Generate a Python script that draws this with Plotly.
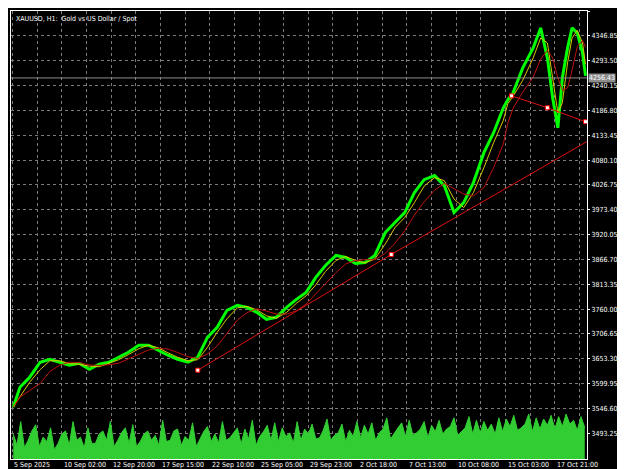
import plotly.graph_objects as go
import numpy as np

hours = [0,9,22,36,49,62,75,88,102,115,128,141,154,168,181,194,207,220,234,247,260,273,286,300,313,326,339,352,366,379,392,405,418,432,445,458,471,484,498,511,524,537,550,564,577,590,603,616,630,643,656,662,669,682,696,706,715,722,729,735,742,748,755,762,766]
price = [3549.6,3592.4,3613.9,3646,3652.4,3646,3639.6,3643.9,3631,3641.7,3646,3656.7,3667.5,3682.5,3682.5,3671.7,3661,3652.4,3646,3656.7,3699.6,3721,3757.4,3768.1,3763.9,3753.1,3738.2,3742.4,3763.9,3781,3796,3828.1,3853.8,3875.3,3871,3858.1,3860.3,3875.3,3924.5,3946,3967.4,4010.2,4038.1,4046.7,4025.3,3967.4,3988.8,4031.7,4096,4138.8,4192.4,4209.5,4224.5,4278.1,4321,4363.8,4299.5,4213.8,4149.5,4257,4321,4363.8,4353.1,4310.2,4260.9]
vol_hours = list(range(0, 770, 5))
volume = [40,22,60,18,30,45,55,20,35,28,50,15,25,40,45,22,60,30,35,18,50,25,25,40,45,30,60,20,30,42,50,25,55,20,28,40,45,30,38,22,62,28,30,45,48,22,36,30,58,20,32,44,52,28,40,26,60,30,34,42,50,24,48,32,62,22,36,44,54,30,58,28,50,36,42,26,60,30,48,40,56,32,34,46,64,30,38,42,56,28,46,36,60,34,54,40,58,30,42,48,66,32,40,50,58,36,62,38,42,48,60,34,54,44,62,40,48,52,66,38,44,50,68,40,62,42,60,46,56,40,66,44,64,52,70,46,50,56,72,44,66,48,64,54,70,48,68,52,72,56,62,46,68,50,66,54,64,58]
trend_h = [247, 506, 770]
trend_p = [3628.9, 3877.4, 4121.7]
trend2_h = [667, 715, 766]
trend2_p = [4218.0, 4192.4, 4162.4]
last_price = 4256.43
ytick_vals = [3493.25 + 53.35*k for k in range(18)]
xtick_h = [-1, 65, 131, 197, 263, 329, 395, 461, 527, 593, 659, 725]
xtick_labels = ["5 Sep 2025","10 Sep 02:00","12 Sep 20:00","17 Sep 15:00","22 Sep 10:00","25 Sep 05:00","29 Sep 23:00","2 Oct 18:00","7 Oct 13:00","10 Oct 08:00","15 Oct 03:00","17 Oct 21:00"]

def ma(a, n):
    a = np.array(a)
    return [a[max(0, i-n+1):i+1].mean() for i in range(len(a))]

F = dict(color="white", size=7, family="DejaVu Sans Condensed, Liberation Sans Narrow, DejaVu Sans")
fig = go.Figure()
fig.add_trace(go.Scatter(x=vol_hours[:len(volume)], y=volume, yaxis="y2", mode="lines",
                         line=dict(color="#32CD32", width=1), fill="tozeroy", fillcolor="#32CD32"))
fig.add_trace(go.Scatter(x=hours, y=price, mode="lines", line=dict(color="#00FF00", width=3)))
fig.add_trace(go.Scatter(x=hours, y=ma(price, 2), mode="lines", line=dict(color="#D4C800", width=1)))
fig.add_trace(go.Scatter(x=hours, y=ma(price, 4), mode="lines", line=dict(color="#C01010", width=1)))
fig.add_trace(go.Scatter(x=trend_h, y=trend_p, mode="lines", line=dict(color="#E01010", width=1)))
fig.add_trace(go.Scatter(x=trend_h[:2], y=trend_p[:2], mode="markers",
                         marker=dict(color="white", size=4, symbol="square", line=dict(color="red", width=1))))
fig.add_trace(go.Scatter(x=trend2_h, y=trend2_p, mode="lines+markers", line=dict(color="#E01010", width=1),
                         marker=dict(color="white", size=4, symbol="square", line=dict(color="red", width=1))))

fig.add_shape(type="line", xref="paper", x0=0, x1=1, yref="y", y0=last_price, y1=last_price,
              line=dict(color="#8C8C8C", width=1))
fig.add_annotation(xref="paper", x=1.0, yref="y", y=last_price, text=f"{last_price:.2f}", showarrow=False,
                   xanchor="left", bgcolor="#8C8C8C", font=F, borderpad=0, xshift=1)
for h, t in zip(xtick_h, xtick_labels):
    fig.add_annotation(x=h, xref="x", y=0, yref="paper", yanchor="top", xanchor="left", text=t,
                       showarrow=False, font=F, yshift=0)
fig.add_annotation(xref="paper", yref="paper", x=0.005, y=0.995, xanchor="left", yanchor="top",
                   text="XAUUSD, H1:  Gold vs US Dollar / Spot", showarrow=False, font=F)

fig.update_layout(
    width=625, height=469, margin=dict(l=3, r=46, t=3, b=18),
    paper_bgcolor="black", plot_bgcolor="black", showlegend=False, font=F,
    xaxis=dict(range=[-3, 768], showticklabels=False, tickmode="linear", tick0=-1, dtick=33,
               showgrid=True, gridcolor="#7A7A7A", griddash="dot", gridwidth=1, zeroline=False,
               showline=True, linecolor="white", mirror=True),
    yaxis=dict(range=[3438.2, 4400.2], side="right", tickvals=ytick_vals, ticktext=[f"{v:.2f}" for v in ytick_vals],
               ticks="outside", ticklen=2, tickcolor="white", tickfont=F,
               showgrid=True, gridcolor="#7A7A7A", griddash="dot", zeroline=False,
               showline=True, linecolor="white", mirror=True),
    yaxis2=dict(range=[0, 449*1.6], overlaying="y", visible=False),
)
fig.write_html("out.html")
